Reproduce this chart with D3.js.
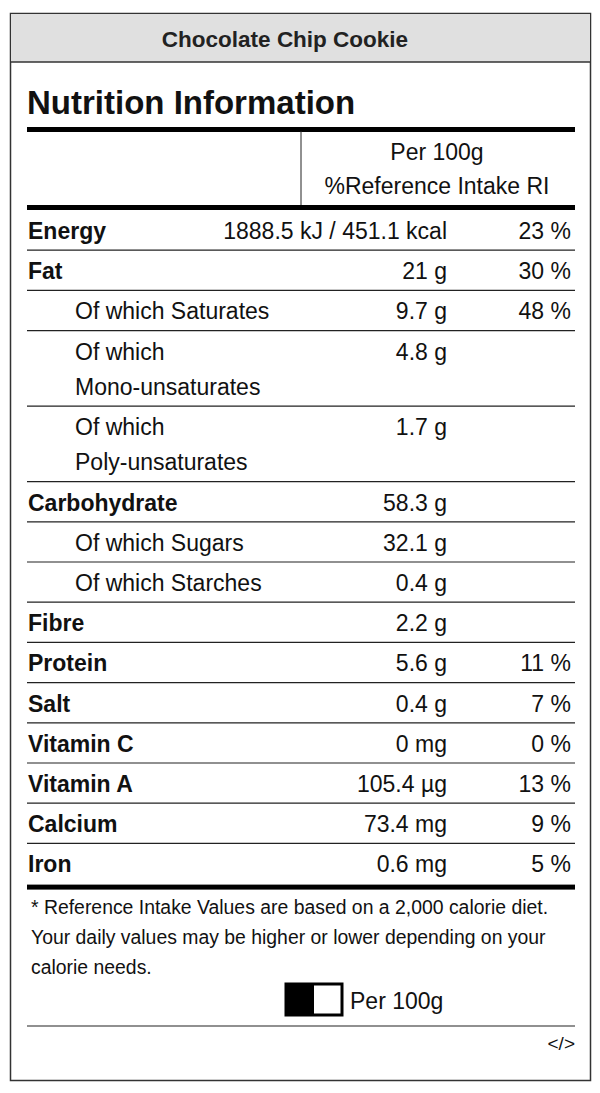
<!DOCTYPE html>
<html><head><meta charset="utf-8">
<script src="https://cdn.jsdelivr.net/npm/d3@7"></script>
<style>body{margin:0;background:#fff;} svg text{font-family:"Liberation Sans",Arial,sans-serif;}</style>
</head><body><svg id="c" width="600" height="1093"></svg>
<script>
// label rows
var names = ["Energy","Fat","Of which Saturates","Of which|Mono-unsaturates","Of which|Poly-unsaturates","Carbohydrate","Of which Sugars","Of which Starches","Fibre","Protein","Salt","Vitamin C","Vitamin A","Calcium","Iron"];
var amounts = ["1888.5 kJ / 451.1 kcal","21 g","9.7 g","4.8 g","1.7 g","58.3 g","32.1 g","0.4 g","2.2 g","5.6 g","0.4 g","0 mg","105.4 µg","73.4 mg","0.6 mg"];
var percents = ["23 %","30 %","48 %","","","","","","","11 %","7 %","0 %","13 %","9 %","5 %"];
var indented = [0,0,1,1,1,0,1,1,0,0,0,0,0,0,0];
var footnote = ["* Reference Intake Values are based on a 2,000 calorie diet.","Your daily values may be higher or lower depending on your","calorie needs."];

var svg = d3.select("#c");
var L = 27, R = 575, FS = 23;

// outer box + header
svg.append("rect").attr("x",10.5).attr("y",13.5).attr("width",580).attr("height",1067).attr("fill","#fff").attr("stroke","#333").attr("stroke-width",1.5);
svg.append("rect").attr("x",11).attr("y",14).attr("width",579).attr("height",48).attr("fill","#e0e0e0");
svg.append("line").attr("x1",10).attr("x2",591).attr("y1",62).attr("y2",62).attr("stroke","#333").attr("stroke-width",1.5);
svg.append("text").attr("x",285).attr("y",47).attr("text-anchor","middle").attr("font-size",22.5).attr("font-weight","bold").attr("fill","#222").text("Chocolate Chip Cookie");

svg.append("text").attr("x",L).attr("y",114).attr("font-size",33).attr("font-weight","bold").attr("fill","#111").text("Nutrition Information");
svg.append("rect").attr("x",L).attr("y",127).attr("width",R-L).attr("height",5).attr("fill","#000");
svg.append("line").attr("x1",301).attr("x2",301).attr("y1",131).attr("y2",206).attr("stroke","#222").attr("stroke-width",1);
svg.append("text").attr("x",437).attr("y",160).attr("text-anchor","middle").attr("font-size",FS).attr("fill","#111").text("Per 100g");
svg.append("text").attr("x",437).attr("y",194).attr("text-anchor","middle").attr("font-size",FS).attr("fill","#111").text("%Reference Intake RI");
svg.append("rect").attr("x",L).attr("y",205).attr("width",R-L).attr("height",5).attr("fill","#000");

// row positions from heights
var heights = names.map(function(n){ return n.indexOf("|")>=0 ? 75.5 : 40.2; });
var tops = [], acc = 210;
heights.forEach(function(h){ tops.push(acc); acc += h; });

var rows = svg.selectAll("g.row").data(names).join("g").attr("class","row")
  .attr("transform", function(d,i){ return "translate(0," + tops[i] + ")"; });

rows.each(function(d,i){
  var g = d3.select(this);
  var parts = d.split("|");
  parts.forEach(function(p,j){
    g.append("text").attr("x", indented[i] ? 75 : 28).attr("y", 29 + j*35)
      .attr("font-size",FS).attr("font-weight", indented[i] ? "normal" : "bold").attr("fill","#111").text(p);
  });
  g.append("text").attr("x",447).attr("y",29).attr("text-anchor","end").attr("font-size",FS).attr("fill","#111").text(amounts[i]);
  g.append("text").attr("x",571).attr("y",29).attr("text-anchor","end").attr("font-size",FS).attr("fill","#111").text(percents[i]);
  if (i < names.length-1)
    g.append("line").attr("x1",L).attr("x2",R).attr("y1",heights[i]).attr("y2",heights[i]).attr("stroke","#222").attr("stroke-width",1.2);
});

svg.append("rect").attr("x",L).attr("y",acc+1).attr("width",R-L).attr("height",5).attr("fill","#000");

svg.selectAll("text.fn").data(footnote).join("text").attr("class","fn")
  .attr("x",31).attr("y",function(d,i){ return 914 + i*30; })
  .attr("font-size",19.4).attr("fill","#111").text(function(d){ return d; });

// toggle
svg.append("rect").attr("x",286).attr("y",984).attr("width",56).attr("height",31).attr("fill","#fff").attr("stroke","#000").attr("stroke-width",3);
svg.append("rect").attr("x",286).attr("y",984).attr("width",28).attr("height",31).attr("fill","#000");
svg.append("text").attr("x",350).attr("y",1009).attr("font-size",FS).attr("fill","#111").text("Per 100g");
svg.append("line").attr("x1",L).attr("x2",R).attr("y1",1026).attr("y2",1026).attr("stroke","#222").attr("stroke-width",1.2);
svg.append("text").attr("x",575).attr("y",1050).attr("text-anchor","end").attr("font-size",19).attr("fill","#111").text("</>");
</script></body></html>
